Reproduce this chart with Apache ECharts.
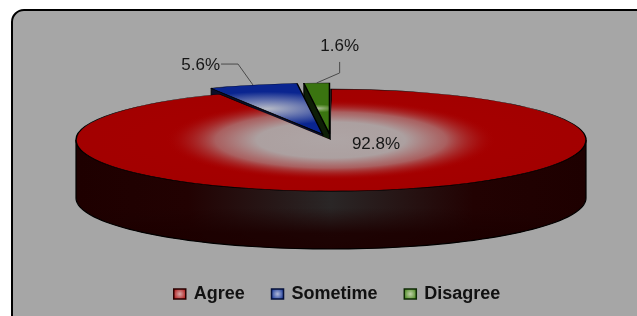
<!DOCTYPE html>
<html>
<head>
<meta charset="utf-8">
<script src="https://cdn.jsdelivr.net/npm/echarts@6/dist/echarts.min.js"></script>
<style>
    html, body { margin: 0; padding: 0; background: #fff; }
    #chart { width: 637px; height: 316px; }
</style>
</head>
<body>
<div id="chart"></div>
<script>
// data
var categories = ['Agree', 'Sometime', 'Disagree'];
var values = [92.8, 5.6, 1.6];
var labelTexts = ['92.8%', '5.6%', '1.6%'];

// pie geometry / styles
var CX = 331, CY = 140, RX = 255, RY = 51, DEPTH = 58;
var explode = [0, 0.12, 0.12];
var baseColors = ['#a80000', '#1a3a9a', '#4a8a20'];
var topStops = [
    [[0, '#a80000'], [1, '#a00000']],
    [[0, '#b6bac6'], [0.45, '#6a78b0'], [1, '#0a2590']],
    [[0, '#b4bca4'], [0.5, '#6e9a48'], [1, '#3a7410']]
];
// light sheen on the big slice: semi axes of the glow ellipse
var GLOW_A = 165, GLOW_B = 40;
var glowStops = [
    [0, 'rgba(174,165,165,1)'], [0.45, 'rgba(172,160,160,1)'], [0.7, 'rgba(170,112,112,0.85)'],
    [0.88, 'rgba(168,40,40,0.45)'], [1, 'rgba(168,0,0,0)']
];
var wallColors = ['#200000', '#0a0f2a', '#0e1e06'];
// label placement, relative to slice anchor (centre for 0, outer middle for others)
var labelLayout = [
    {leader: null, text: [45, 4], align: 'center'},
    {leader: [[0, 0], [-15, -21], [-32, -21]], text: [-33, -20], align: 'right'},
    {leader: [[0, 0], [23, -10], [23, -21]], text: [23, -37], align: 'center'}
];

var total = values.reduce(function (a, b) { return a + b; }, 0);

function stops(list) {
    return list.map(function (c) { return {offset: c[0], color: c[1]}; });
}

function sliceRender(i) {
    return function (params, api) {
        var before = 0;
        for (var k = 0; k < i; k++) before += values[k];
        var a0 = before / total * Math.PI * 2;
        var a1 = (before + api.value(0)) / total * Math.PI * 2;
        var mid = (a0 + a1) / 2;
        var ox = explode[i] * RX * Math.sin(mid);
        var oy = -explode[i] * RY * Math.cos(mid);
        var ccx = CX + ox, ccy = CY + oy;

        function pt(t, dz) {
            return [ccx + RX * Math.sin(t), ccy - RY * Math.cos(t) + (dz || 0)];
        }

        var children = [];
        var wallFill = wallColors[i];

        // outer wall (front half only)
        var lo = Math.max(a0, Math.PI / 2), hi = Math.min(a1, Math.PI * 1.5);
        if (hi > lo) {
            var pts = [], steps = 90, s;
            for (s = 0; s <= steps; s++) pts.push(pt(lo + (hi - lo) * s / steps));
            for (s = steps; s >= 0; s--) pts.push(pt(lo + (hi - lo) * s / steps, DEPTH));
            children.push({
                type: 'polygon',
                shape: {points: pts},
                style: {
                    fill: {
                        type: 'linear', x: 0, y: 0, x2: 1, y2: 0,
                        colorStops: stops([[0, '#1e0000'], [0.22, '#220202'], [0.5, '#2a2626'], [0.78, '#220202'], [1, '#1e0000']])
                    },
                    stroke: 'none'
                }
            });
            children.push({
                type: 'polygon',
                shape: {points: pts},
                style: {
                    fill: {
                        type: 'linear', x: 0, y: 0, x2: 0, y2: 1,
                        colorStops: stops([[0, 'rgba(28,0,0,0)'], [0.62, 'rgba(28,0,0,0)'], [0.85, 'rgba(28,0,0,0.9)'], [1, 'rgba(28,0,0,0.95)']])
                    },
                    stroke: '#000',
                    lineWidth: 1.2
                }
            });
        }

        // radial cut walls facing the viewer
        if (Math.sin(a0) < -0.001) {
            children.push({
                type: 'polygon',
                shape: {points: [[ccx, ccy], pt(a0), pt(a0, DEPTH), [ccx, ccy + DEPTH]]},
                style: {fill: wallFill, stroke: '#000', lineWidth: 1}
            });
        }
        if (Math.sin(a1) > 0.001) {
            children.push({
                type: 'polygon',
                shape: {points: [[ccx, ccy], pt(a1), pt(a1, DEPTH), [ccx, ccy + DEPTH]]},
                style: {fill: wallFill, stroke: '#000', lineWidth: 1}
            });
        }

        // top face: circular sector squashed into the ellipse
        children.push({
            type: 'sector',
            shape: {
                cx: ccx, cy: ccy, r: RX, r0: 0,
                startAngle: a0 - Math.PI / 2,
                endAngle: a1 - Math.PI / 2,
                clockwise: true
            },
            originX: ccx,
            originY: ccy,
            scaleY: RY / RX,
            style: {
                fill: {
                    type: 'radial', x: 0.5, y: 0.5, r: 0.75,
                    colorStops: stops(topStops[i])
                },
                stroke: '#000',
                lineWidth: 1.5,
                strokeNoScale: true
            }
        });

        // soft sheen on the big slice, same angular span in the glow ellipse
        if (i === 0) {
            var g0 = Math.atan2(Math.sin(a0) / GLOW_A * RX, Math.cos(a0) / GLOW_B * RY);
            var g1 = Math.atan2(Math.sin(a1) / GLOW_A * RX, Math.cos(a1) / GLOW_B * RY);
            if (g1 <= g0) g1 += Math.PI * 2;
            children.push({
                type: 'sector',
                shape: {
                    cx: ccx, cy: ccy, r: GLOW_A, r0: 0,
                    startAngle: g0 - Math.PI / 2,
                    endAngle: g1 - Math.PI / 2,
                    clockwise: true
                },
                originX: ccx,
                originY: ccy,
                scaleY: GLOW_B / GLOW_A,
                style: {
                    fill: {type: 'radial', x: 0.5, y: 0.5, r: 0.5, colorStops: stops(glowStops)},
                    stroke: 'none'
                }
            });
        }

        // label + leader
        var lay = labelLayout[i];
        var anchor = i === 0 ? [ccx, ccy] : pt(mid);
        if (lay.leader) {
            children.push({
                type: 'polyline',
                shape: {points: lay.leader.map(function (d) { return [anchor[0] + d[0], anchor[1] + d[1]]; })},
                style: {stroke: '#4a4a4a', lineWidth: 1, fill: null}
            });
        }
        children.push({
            type: 'text',
            style: {
                text: labelTexts[i],
                x: anchor[0] + lay.text[0],
                y: anchor[1] + lay.text[1],
                align: lay.align,
                verticalAlign: 'middle',
                font: '17px "Liberation Sans", Arial, sans-serif',
                fill: '#161616'
            }
        });

        return {type: 'group', children: children};
    };
}

var legendFills = [
    [[0, '#d8a8a8'], [1, '#b01818']],
    [[0, '#b0b8d8'], [1, '#1a3a9a']],
    [[0, '#c0d0a8'], [1, '#4a8a20']]
];
var legendBorders = ['#2a0000', '#05103a', '#0e2a04'];

var chart = echarts.init(document.getElementById('chart'));
var zOrder = [3, 2, 1];

chart.setOption({
    animation: false,
    graphic: [{
        type: 'rect',
        shape: {x: 12, y: 10, width: 640, height: 320, r: 12},
        style: {fill: '#a6a6a6', stroke: '#000', lineWidth: 2},
        z: -10,
        silent: true
    }],
    legend: {
        left: 173,
        top: 285,
        padding: 0,
        icon: 'rect',
        itemWidth: 12,
        itemHeight: 10,
        itemGap: 26,
        textStyle: {
            fontFamily: '"Liberation Sans", Arial, sans-serif',
            fontWeight: 'bold',
            fontSize: 18,
            color: '#111',
            padding: [0, 0, 0, 3]
        },
        data: categories.map(function (c, i) {
            return {
                name: c,
                itemStyle: {
                    color: {
                        type: 'radial', x: 0.5, y: 0.5, r: 0.6,
                        colorStops: stops(legendFills[i])
                    },
                    borderColor: legendBorders[i],
                    borderWidth: 1.5
                }
            };
        })
    },
    series: categories.map(function (c, i) {
        return {
            type: 'custom',
            name: c,
            coordinateSystem: 'none',
            z: zOrder[i],
            itemStyle: {color: baseColors[i]},
            renderItem: sliceRender(i),
            data: [values[i]]
        };
    })
});
</script>
</body>
</html>
